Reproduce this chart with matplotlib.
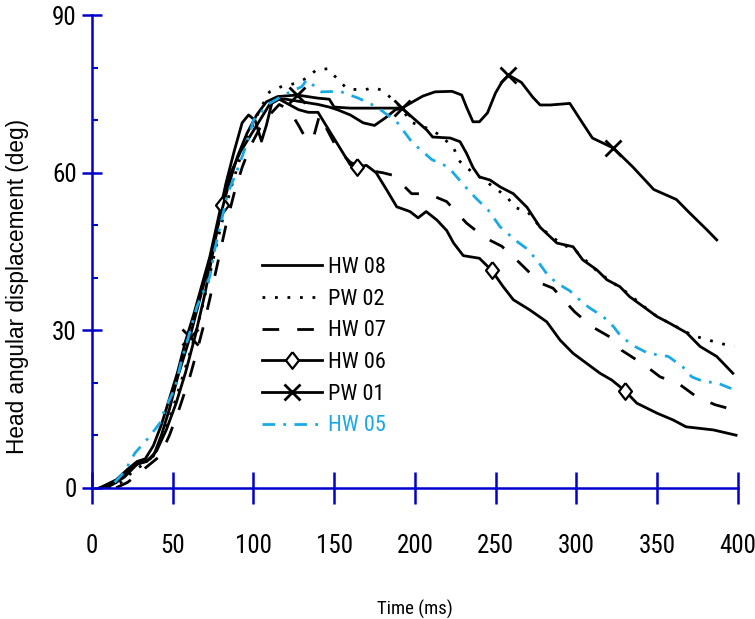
import matplotlib
matplotlib.use("Agg")
import matplotlib.pyplot as plt
from matplotlib import font_manager as fm
from matplotlib.font_manager import FontProperties
import numpy as np

# ---------------- data ----------------
hw08_t = [5, 15, 22, 28, 33, 38, 43, 48, 53, 58, 63, 68, 73, 78, 83, 88, 93, 97, 101, 105, 108, 112, 120, 130, 140, 147,
          152, 160, 168, 175, 182, 188, 192, 199, 207.5, 211, 222, 228, 232, 236, 240, 246.6, 252.8, 261, 269.5, 277.6,
          288, 298, 304, 312.7, 319, 327, 333, 341.5, 350, 358, 368.4, 376.7, 387, 397]
hw08_y = [0, 1.5, 3.5, 5, 5.5, 8, 12, 17, 22, 28, 33, 38.5, 44, 51, 58, 64, 69.5, 71, 70, 66, 69, 74, 74, 73.5, 73, 72.5,
          72, 71, 69.5, 69, 70.5, 72, 72.3, 70.4, 68.1, 66.8, 66.6, 65.9, 63.7, 61, 59.2, 58.6, 57.3, 56, 53.4, 49.6,
          46.6, 45.9, 43.4, 41.5, 39.6, 38.3, 36.4, 34.5, 32.6, 31.3, 29.5, 26.9, 25, 21.8]

pw02_t = [10, 18, 25, 32, 38, 44, 50, 56, 62, 68, 74, 80, 86, 92, 98, 104, 110, 118, 126, 133, 139, 146, 151.6, 158, 168,
          174, 180, 186, 192, 197, 203, 211, 218, 224, 228, 234, 240, 250, 257, 262, 270, 278, 290, 300, 312, 320, 330,
          342, 350, 360, 372, 380, 389, 398]
pw02_y = [0, 1, 3, 4.5, 6, 10, 15, 21, 27, 34, 42, 50, 57, 63, 68, 72, 75.4, 76.5, 77, 78, 79.6, 79.8, 78, 76, 75.7,
          76.2, 75.7, 74, 72.3, 69.7, 69, 68.1, 66.5, 64.7, 62.1, 60.5, 59.2, 57, 55.4, 53.4, 52.5, 49.5, 46.6, 45,
          41.5, 39.6, 37.5, 34.5, 32.6, 31, 29, 28.3, 27.5, 26.9]

hw07_t = [15, 22, 30, 36, 42, 48, 54, 60.7, 65, 69, 73, 78, 83, 88, 93, 98, 104, 110, 116, 122, 128, 133, 137, 141, 146,
          152, 160, 170, 180, 186.6, 198, 208, 219.7, 232, 243.5, 253.8, 265, 277.6, 285.6, 299, 309.6, 322, 328, 342.6,
          352, 363, 374.6, 386, 398]
hw07_y = [0, 1, 3, 4.5, 6, 10, 15, 21.2, 26, 30.7, 36, 43, 50, 56, 61, 65, 68.5, 71, 73, 72, 69, 66.2, 66.5, 71, 68,
          64.5, 62, 60.5, 60, 59.5, 56, 56, 54.5, 50.4, 47.6, 46, 42.8, 39, 38, 33.5, 30.7, 28.5, 26.2, 23.3, 21.1,
          19.9, 17.3, 15.8, 14.8]

hw06_t = [5, 12, 20, 28, 34, 40, 46, 52, 58, 64, 70, 75, 80.5, 86, 92, 98, 104, 110, 116, 122, 128, 134, 140, 145, 150,
          155, 160, 164, 170, 176, 182.6, 188.8, 197, 202, 207, 213.6, 219.7, 224, 230, 240, 247.6, 254.7, 261, 271,
          281.7, 290, 298, 314.7, 322, 330, 337.5, 350, 360, 368, 385, 399]
hw06_y = [0, 0.5, 2, 4.5, 5, 7, 11, 16, 22, 29, 37, 45, 53.8, 60, 64, 67, 70, 73, 74, 73, 72, 71.5, 71.5, 69, 66.5,
          64, 61.5, 61.1, 61.4, 60, 56.7, 53.5, 52.6, 51.4, 52.6, 51, 49, 46.6, 44.2, 43.7, 41.4, 38.3, 35.8, 33.9,
          31.6, 28.1, 25.6, 21.8, 20.5, 18.5, 16.1, 14.2, 12.9, 11.6, 11, 10]
hw06_marks = [80.5, 164, 247.6, 330]

pw01_t = [8, 15, 22, 28, 33, 38, 43, 48, 53, 60.7, 66, 72, 78, 84, 90, 96, 102, 108, 115, 127, 140, 147, 150, 160, 170,
          180, 192, 197, 205, 212.5, 223, 229, 232, 236, 240, 245, 250, 254, 258, 266, 273, 277.6, 284, 296, 304, 310,
          323, 335, 348, 362, 370, 381, 387]
pw01_y = [0, 1, 3, 4.5, 5, 6, 10, 15, 21, 28.7, 35, 42, 50, 57, 63, 67.5, 71, 73.5, 74.5, 74.8, 74.2, 74, 72.5, 72.3,
          72.3, 72.3, 72.3, 73.2, 74.6, 75.4, 75.5, 74.8, 72.5, 69.7, 69.7, 71.4, 75.2, 77.3, 78.6, 77.2, 74.4, 72.9,
          72.9, 73.2, 69.4, 66.6, 64.7, 61.1, 56.8, 54.9, 52.4, 49.1, 47.2]
pw01_marks = [60.7, 127, 192, 258, 323]

hw05_t = [14, 20, 26.6, 35, 42, 45, 51.4, 55.5, 60.7, 65, 73, 76, 79.3, 84, 89.6, 96, 100, 110, 120, 130, 133, 142,
          153.6, 165, 176, 188.8, 198, 203, 210.5, 220.6, 231, 238, 245.4, 252.8, 262, 269, 275.5, 283, 290, 296,
          303.4, 308.5, 316.6, 323, 327, 334.4, 344.5, 357, 366, 371.6, 379, 387, 395, 399]
hw05_y = [1, 3, 6.6, 9.5, 12.3, 14.8, 19, 24.3, 29.7, 34.5, 40.2, 45.3, 49.7, 56, 60.2, 65.6, 70, 73.2, 75, 76.4, 77.7,
          75.4, 75.5, 74.2, 72.6, 69.7, 65.9, 64.5, 62.5, 61.1, 57.4, 55.1, 52.9, 49.7, 47.2, 45.6, 43.4, 40.2, 38.6,
          37.5, 35.4, 34.2, 32.6, 30.7, 29.1, 27.2, 25.6, 25, 23, 21.1, 20.2, 20, 19, 18.7]

x_ticks = [0, 50, 100, 150, 200, 250, 300, 350, 400]
y_ticks = [0, 30, 60, 90]
x_label = "Time (ms)"
y_label = "Head angular displacement (deg)"


# ---------------- fonts ----------------
def find_narrow_font():
    prefs = ["liberationsansnarrow-regular", "arialn.", "arial narrow", "notosans-condensed.",
             "notosans-condensed", "robotocondensed-regular", "opensans-condensed", "dejavusanscondensed."]
    files = [f.fname for f in fm.fontManager.ttflist]
    low = [(p.lower().replace(" ", ""), p) for p in files]
    for pref in prefs:
        key = pref.replace(" ", "")
        for l, p in low:
            base = l.rsplit("/", 1)[-1]
            if base.startswith(key) and "bold" not in base and "italic" not in base:
                return p
    for f in fm.fontManager.ttflist:
        if f.stretch in ("condensed", "semi-condensed") and f.style == "normal" and f.weight in (400, "normal"):
            return f.fname
    return None


NARROW_FILE = find_narrow_font()


def narrow(size):
    if NARROW_FILE:
        return FontProperties(fname=NARROW_FILE, size=size)
    return FontProperties(family=["Liberation Sans", "DejaVu Sans"], size=size * 0.85)


# ---------------- style ----------------
BLUE = "#0000CD"
CYAN = "#1BA9E5"
LW = 2.0
DIAMOND = [(0, 1), (0.78, 0), (0, -1), (-0.78, 0), (0, 1)]

fig = plt.figure(figsize=(7.55, 6.19), dpi=100)
ax = fig.add_axes([92 / 755, 1 - 487.7 / 619, (737.7 - 92) / 755, (487.7 - 15.2) / 619])

l1, = ax.plot(hw08_t, hw08_y, color="black", lw=LW, label="HW 08")
l2, = ax.plot(pw02_t, pw02_y, color="black", lw=LW, linestyle=(0, (1, 3.5)), label="PW 02")
l3, = ax.plot(hw07_t, hw07_y, color="black", lw=LW, linestyle=(0, (6, 6.5)), label="HW 07")
l4, = ax.plot(hw06_t, hw06_y, color="black", lw=LW, marker=DIAMOND, markersize=12, markerfacecolor="white",
              markeredgecolor="black", markeredgewidth=1.6,
              markevery=[hw06_t.index(m) for m in hw06_marks], label="HW 06")
l5, = ax.plot(pw01_t, pw01_y, color="black", lw=LW, marker="x", markersize=11, markeredgewidth=2.0,
              markevery=[pw01_t.index(m) for m in pw01_marks], label="PW 01")
l6, = ax.plot(hw05_t, hw05_y, color=CYAN, lw=LW, linestyle=(0, (4.5, 3, 1, 3)), label="HW 05")

ax.set_xlim(0, 400)
ax.set_ylim(0, 90)
for s in ["top", "right"]:
    ax.spines[s].set_visible(False)
for s in ["left", "bottom"]:
    ax.spines[s].set_color(BLUE)
    ax.spines[s].set_linewidth(1.8)

ax.set_xticks(x_ticks)
ax.set_yticks(y_ticks)
ax.set_yticks(np.arange(0, 91, 10), minor=True)
ax.tick_params(axis="x", which="major", direction="inout", length=23, width=1.8, color=BLUE, pad=22)
ax.tick_params(axis="y", which="major", direction="inout", length=14, width=1.8, color=BLUE, pad=4)
ax.tick_params(axis="y", which="minor", direction="in", length=4.5, width=1.5, color=BLUE)
for lab in ax.get_xticklabels() + ax.get_yticklabels():
    lab.set_fontproperties(narrow(18))

ax.set_xlabel(x_label, fontproperties=narrow(13.5), labelpad=30)
ax.set_ylabel(y_label, family=["Liberation Sans", "DejaVu Sans"], fontsize=16.3)
ax.yaxis.set_label_coords(-0.097, 0.427)

leg = ax.legend(handles=[l1, l2, l3, l4, l5, l6], loc="upper left",
                bbox_to_anchor=(262 / 755, 1 - 257 / 619), bbox_transform=fig.transFigure,
                frameon=False, prop=narrow(16), handlelength=2.7,
                handletextpad=0.25, labelspacing=0.48, borderpad=0, borderaxespad=0, numpoints=1)
leg.get_texts()[5].set_color(CYAN)

fig.savefig("out.png", dpi=100)
